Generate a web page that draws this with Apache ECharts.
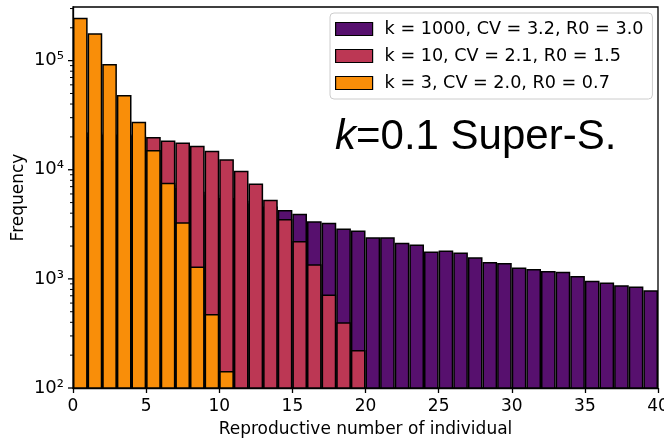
<!DOCTYPE html>
<html>
<head>
<meta charset="utf-8">
<script src="https://cdn.jsdelivr.net/npm/echarts@6/dist/echarts.min.js"></script>
<style>
html,body{margin:0;padding:0;background:#fff;}
#chart{width:664px;height:442px;}
</style>
</head>
<body>
<div id="chart"></div>
<script>
// Bin categories (left edge of each unit-width bin)
var bins = [];
for (var i = 0; i < 40; i++) bins.push(String(i));

var seriesNames = ['k = 1000, CV = 3.2, R0 = 3.0', 'k = 10, CV = 2.1, R0 = 1.5', 'k = 3, CV = 2.0, R0 = 0.7'];

// k = 1000 (purple) - bins 0..39 (first ones hidden behind other series)
var purpleValues = [20000, 15000, 12000, 10000, 9000, 8000, 7300, 6800, 6300, 5900, 5500, 5200, 4900, 4600,
  4270, 3950, 3380, 3260, 2890, 2770, 2410, 2410, 2140, 2060, 1780, 1820, 1740, 1580, 1430, 1400,
  1270, 1230, 1180, 1160, 1060, 959, 925, 875, 850, 788];

// k = 10 (red) - bins 0..19
var redValues = [22000, 22000, 21000, 21000, 20500, 20000, 18500, 17800, 16600, 14900, 12500, 9800, 7500, 5300,
  3530, 2220, 1360, 718, 401, 223];

// k = 3 (orange) - bins 0..10
var orangeValues = [247000, 178000, 93000, 48500, 27600, 15200, 7600, 3310, 1300, 477, 143];

var xTicks = [0, 5, 10, 15, 20, 25, 30, 35, 40];
var yDecades = [100, 1000, 10000, 100000];
var supers = {'2':'\u00b2','3':'\u00b3','4':'\u2074','5':'\u2075'};

function pad(arr) {
  var out = [];
  for (var i = 0; i < bins.length; i++) out.push(i < arr.length ? arr[i] : '-');
  return out;
}

var colors = ['#57106e', '#bc3754', '#f98e09'];
var values = [purpleValues, redValues, orangeValues];

var chart = echarts.init(document.getElementById('chart'), null, {renderer: 'canvas'});
var FONT = 'DejaVu Sans';

var series = values.map(function (v, idx) {
  return {
    name: seriesNames[idx],
    type: 'bar',
    xAxisIndex: 1,
    yAxisIndex: 0,
    data: pad(v),
    barWidth: '100%',
    barGap: '-100%',
    clip: true,
    itemStyle: {color: colors[idx], borderColor: '#000', borderWidth: 1.5},
    emphasis: {disabled: true},
    animation: false,
    z: 2 + idx
  };
});

var option = {
  animation: false,
  grid: {left: 73, right: 6, top: 7, bottom: 54, show: true, borderColor: '#000', borderWidth: 1.3,
         backgroundColor: 'transparent', outerBoundsMode: 'none', containLabel: false},
  legend: {
    orient: 'vertical',
    left: 330, top: 13,
    data: seriesNames,
    icon: 'rect',
    itemWidth: 37, itemHeight: 13, itemGap: 9,
    padding: [7, 9, 7, 5],
    borderColor: '#cccccc', borderWidth: 1, borderRadius: 4,
    backgroundColor: 'rgba(255,255,255,0.8)',
    itemStyle: {borderColor: '#000', borderWidth: 1.2},
    textStyle: {fontFamily: FONT, fontSize: 17.6, color: '#000', padding: [0, 0, 0, 7]}
  },
  xAxis: [
    {
      type: 'value', min: 0, max: 40, interval: 5,
      name: 'Reproductive number of individual', nameLocation: 'middle', nameGap: 33,
      nameMoveOverlap: false,
      nameTextStyle: {fontFamily: FONT, fontSize: 17, color: '#000'},
      axisLine: {show: true, lineStyle: {color: '#000', width: 1.3}},
      axisTick: {show: true, length: 5, lineStyle: {color: '#000', width: 1.3}},
      axisLabel: {fontFamily: FONT, fontSize: 17, color: '#000', margin: 10},
      splitLine: {show: false}
    },
    {
      type: 'category', data: bins, show: false, boundaryGap: true
    }
  ],
  yAxis: [
    {
      type: 'log', logBase: 10, min: 100, max: 310000,
      name: 'Frequency', nameLocation: 'middle', nameGap: 46,
      nameMoveOverlap: false,
      nameTextStyle: {fontFamily: FONT, fontSize: 17, color: '#000'},
      axisLine: {show: true, lineStyle: {color: '#000', width: 1.3}},
      axisTick: {show: false},
      axisLabel: {
        fontFamily: FONT, fontSize: 18, color: '#000', margin: 9,
        formatter: function (v) {
          var e = Math.round(Math.log10(v));
          if (Math.abs(Math.pow(10, e) - v) / v > 1e-6) return '';
          return '10' + (supers[String(e)] || String(e));
        }
      },
      splitLine: {show: false}
    }
  ],
  series: series
};

chart.setOption(option);

// Major and minor log ticks (axis decoration)
var graphics = [];
var x0 = chart.convertToPixel({xAxisIndex: 0}, 0);
for (var d = 100; d <= 100000; d *= 10) {
  for (var m = 1; m <= 9; m++) {
    var val = d * m;
    if (val > 310000) break;
    var py = chart.convertToPixel({yAxisIndex: 0}, val);
    var len = m === 1 ? 5 : 3;
    graphics.push({
      type: 'line', silent: true, z: 10,
      shape: {x1: x0 - len, y1: py, x2: x0, y2: py},
      style: {stroke: '#000', lineWidth: m === 1 ? 1.3 : 1}
    });
  }
}
graphics.push({
  type: 'text', left: 335, top: 116, z: 20, silent: true,
  style: {
    text: '{i|k}{n|=0.1 Super-S.}',
    rich: {
      i: {fontFamily: 'Liberation Sans', fontSize: 42, fontStyle: 'italic', fill: '#000'},
      n: {fontFamily: 'Liberation Sans', fontSize: 42, fill: '#000'}
    }
  }
});
chart.setOption({graphic: graphics});
</script>
</body>
</html>
